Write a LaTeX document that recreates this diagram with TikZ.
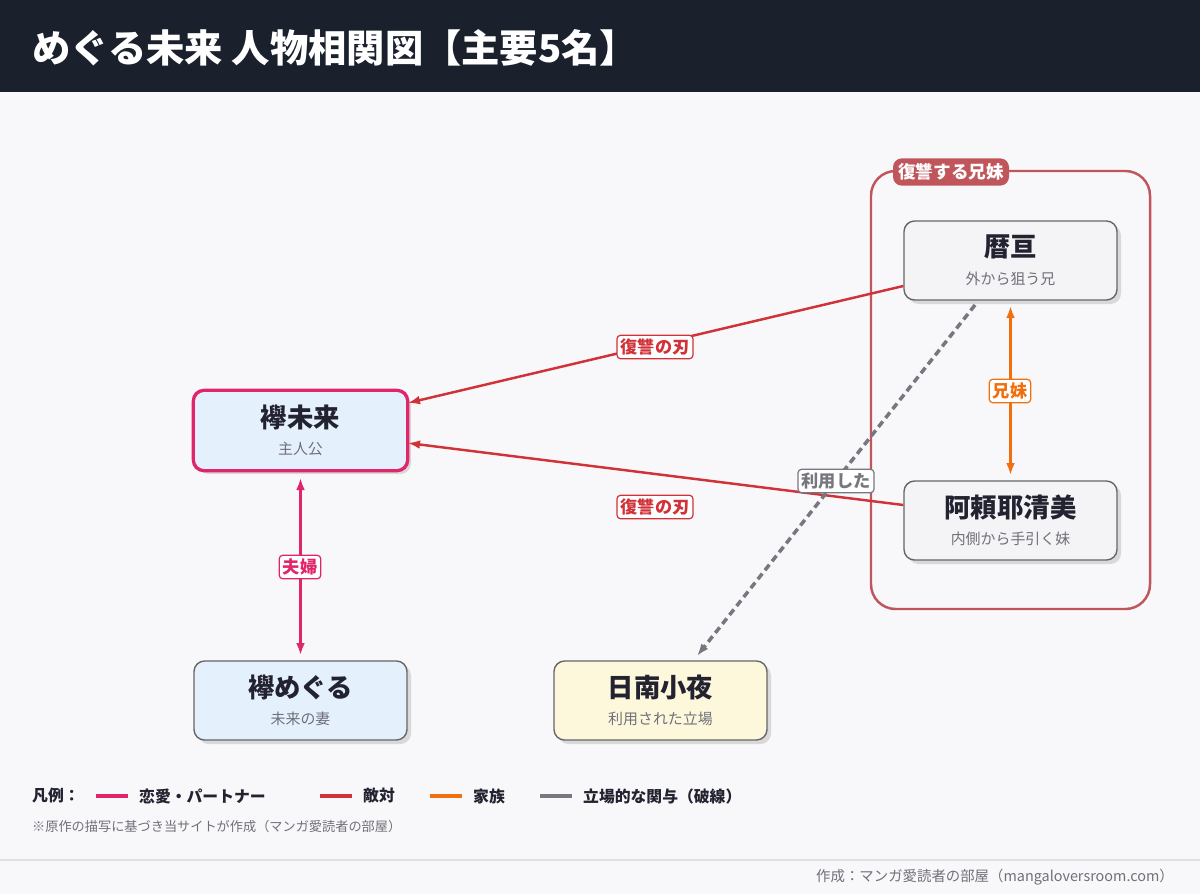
\documentclass[tikz,border=0pt]{standalone}
\usepackage{fontspec}
\setmainfont{Noto Sans CJK JP}
\usetikzlibrary{arrows.meta}
\definecolor{headbg}{HTML}{1A202C}
\definecolor{pagebg}{HTML}{F8F8FB}
\definecolor{lovec}{HTML}{E0256A}
\definecolor{enemyc}{HTML}{D03238}
\definecolor{famc}{HTML}{F07010}
\definecolor{usec}{HTML}{777780}
\definecolor{groupc}{HTML}{C0565B}
\definecolor{bluefill}{HTML}{E4F1FC}
\definecolor{greyfill}{HTML}{F4F4F6}
\definecolor{yellowfill}{HTML}{FDF8DC}
\definecolor{subc}{HTML}{70707A}
\definecolor{textc}{HTML}{222230}
\newcommand{\Person}[6]{
    \fill[black!15, rounded corners=6] (#2+4,#3+4) rectangle ++(213,79);
    \node[person, fill=#5, draw=#6] (#1) at (#2+106.5,#3+39.5) {};
    \node[ptitle] at (#2+106.5,#3+26) {#4};
}
\newcommand{\Sub}[3]{\node[psub] at (#1+106.5,#2+58) {#3};}
\begin{document}
\begin{tikzpicture}[x=0.2mm, y=-0.2mm,
        person/.style={rounded corners=6, minimum width=42.6mm, minimum height=15.8mm, line width=0.8pt, inner sep=0pt},
        ptitle/.style={font=\bfseries\fontsize{15}{15}\selectfont, text=textc},
        psub/.style={font=\fontsize{8.5}{9}\selectfont, text=subc},
        rel/.style={line width=1.4pt, -{Latex[length=7pt,width=5pt]}},
        both/.style={rel, {Latex[length=7pt,width=5pt]}-{Latex[length=7pt,width=5pt]}},
        tag/.style={draw=#1, text=#1, fill=white, rounded corners=2, line width=0.7pt, inner sep=2pt,
            font=\bfseries\fontsize{9.8}{10}\selectfont},
        legline/.style={line width=2.5pt},
        legtext/.style={anchor=west, font=\bfseries\fontsize{9}{10}\selectfont, text=textc}
    ]
  % canvas and header
  \useasboundingbox (0,0) rectangle (1200,894);
  \fill[pagebg] (0,0) rectangle (1200,894);
  \fill[headbg] (0,0) rectangle (1200,92);
  \node[anchor=west, text=white, font=\bfseries\fontsize{21.8}{22}\selectfont] (title) at (26,48) {めぐる未来 人物相関図【主要5名】};

  % group of the siblings
  \draw[groupc, line width=1.4pt, rounded corners=14] (871,171) rectangle (1150,609);
  \node[fill=groupc, text=white, rounded corners=5, inner sep=3pt, font=\bfseries\fontsize{10}{10}\selectfont] (grp) at (951,172) {復讐する兄妹};

  % characters
  \Person{mirai}{194}{391}{襷未来}{bluefill}{lovec}
  \Sub{194}{391}{主人公}
  \draw[lovec, line width=1.8pt, rounded corners=6] (mirai.south west) rectangle (mirai.north east);
  \Person{meguru}{194}{661}{襷めぐる}{bluefill}{black!60}
  \Sub{194}{661}{未来の妻}
  \Person{sayo}{554}{661}{日南小夜}{yellowfill}{black!60}
  \Sub{554}{661}{利用された立場}
  \Person{wataru}{904}{221}{暦亘}{greyfill}{black!60}
  \Sub{904}{221}{外から狙う兄}
  \Person{kiyomi}{904}{481}{阿頼耶清美}{greyfill}{black!60}
  \Sub{904}{481}{内側から手引く妹}

  % relations
  \draw[rel, enemyc] (wataru.west |- 0,286) -- (mirai.east |- 0,403);
  \node[tag=enemyc] (r1) at (655,347) {復讐の刃};
  \draw[rel, enemyc] (kiyomi.west |- 0,505) -- (mirai.east |- 0,443);
  \node[tag=enemyc] (r2) at (655,507) {復讐の刃};
  \draw[both, famc] ([yshift=-1mm]wataru.south) -- ([yshift=1mm]kiyomi.north);
  \node[tag=famc] (r3) at (1010,391) {兄妹};
  \draw[both, lovec] ([yshift=-1.4mm]mirai.south) -- ([yshift=1mm]meguru.north);
  \node[tag=lovec] (r4) at (300,567) {夫婦};
  \coordinate (usefrom) at (975,305);
  \coordinate (useto) at (697,656);
  \draw[rel, usec, line width=2pt, dash pattern=on 4pt off 2.5pt] (usefrom) -- (useto);
  \node[tag=usec] (r5) at (836,481) {利用した};

  % legend
  \node[legtext, anchor=west] (leg) at (26,796) {凡例：};
  \foreach \x/\c/\t in {96/lovec/恋愛・パートナー, 320/enemyc/敵対, 430/famc/家族, 540/usec/立場的な関与（破線）} {
    \draw[legline, \c] (\x,796) -- ++(32,0);
    \node[legtext] at (\x+37,796) {\t};
  }
  \node[anchor=west, text=subc, font=\fontsize{7.5}{8}\selectfont] (note) at (26,826) {※原作の描写に基づき当サイトが作成（マンガ愛読者の部屋）};

  % footer
  \draw[black!12, line width=0.6pt] (0,860) -- (1200,860);
  \node[anchor=east, text=subc, font=\fontsize{8.2}{8}\selectfont] (foot) at (1180,877) {作成：マンガ愛読者の部屋（mangaloversroom.com）};
\end{tikzpicture}
\end{document}
